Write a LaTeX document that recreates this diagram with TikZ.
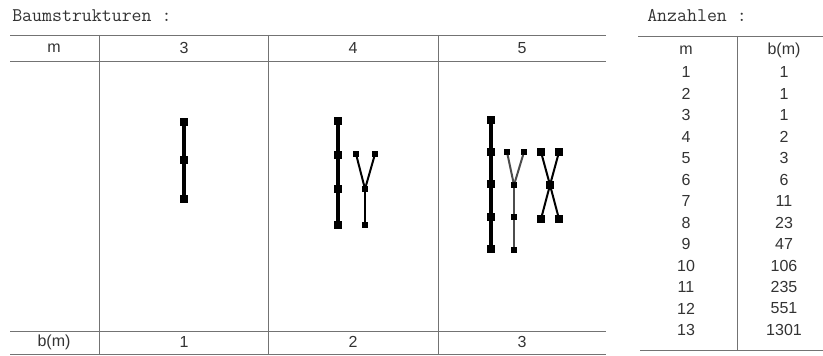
\documentclass[tikz,border=0pt]{standalone}
\usepackage{fontspec}
\setmainfont{Liberation Sans}
\usepackage{tikz}

\tikzset{
  rule/.style={draw=black!55, line width=0.7pt},
  cell/.style={inner sep=0pt, font=\fontsize{12}{12}\selectfont, text=black!80},
  heading/.style={inner sep=0pt, anchor=west, font=\ttfamily\fontsize{14.5}{14.5}\selectfont, text=black!80},
  knot/.style={rectangle, fill=black, inner sep=0pt, minimum size=5.6pt},
  tick/.style={rectangle, fill=black, inner sep=0pt, minimum size=4pt},
  stem/.style={line width=2.5pt},
  twig/.style={line width=1.5pt},
}

\begin{document}
\begin{tikzpicture}[x=0.75pt, y=-0.75pt]
      \useasboundingbox (0,0) rectangle (823,356);

      \node[heading] (baum) at (12,16) {Baumstrukturen :};
      \draw [rule] (10,35) -- (606,35);
      \draw [rule] (10,61) -- (606,61);
      \draw [rule] (10,331) -- (606,331);
      \draw [rule] (10,354) -- (606,354);
      \draw [rule] (99,35) -- (99,354);
      \draw [rule] (268,35) -- (268,354);
      \draw [rule] (438,35) -- (438,354);

      \node[cell] (km) at (54,48) {m};
      \node[cell] (k3) at (184,48) {3};
      \node[cell] (k4) at (353,48) {4};
      \node[cell] (k5) at (522,48) {5};
      \node[cell] (kb) at (54,342) {b(m)};
      \node[cell] (b3) at (184,342) {1};
      \node[cell] (b4) at (353,342) {2};
      \node[cell] (b5) at (522,342) {3};

      % m = 3
      \node[knot] (a1) at (184,122) {};
      \node[knot] (a2) at (184,160) {};
      \node[knot] (a3) at (184,199) {};
      \draw [stem] (a1) -- (a2) -- (a3);

      % m = 4
      \node[knot] (p1) at (338,121) {};
      \node[knot] (p2) at (338,155) {};
      \node[knot] (p3) at (338,189) {};
      \node[knot] (p4) at (338,225) {};
      \draw [stem] (p1) -- (p2) -- (p3) -- (p4);
      \node[tick] (y1) at (356,154) {};
      \node[tick] (y2) at (375,154) {};
      \node[tick] (y3) at (365,189) {};
      \node[tick] (y4) at (365,225) {};
      \draw [twig] (y1) -- (y3);
      \draw [twig] (y2) -- (y3);
      \draw [twig] (y3) -- (y4);

      % m = 5
      \node[knot] (q1) at (491,120) {};
      \node[knot] (q2) at (491,152) {};
      \node[knot] (q3) at (491,184) {};
      \node[knot] (q4) at (491,217) {};
      \node[knot] (q5) at (491,249) {};
      \draw [stem] (q1) -- (q2) -- (q3) -- (q4) -- (q5);
      \node[tick] (v1) at (507,152) {};
      \node[tick] (v2) at (524,152) {};
      \node[tick] (v3) at (514,185) {};
      \node[tick] (v4) at (514,217) {};
      \node[tick] (v5) at (514,250) {};
      \draw [twig, black!70] (v1) -- (v3);
      \draw [twig, black!70] (v2) -- (v3);
      \draw [twig, black!70] (v3) -- (v4) -- (v5);
      \node[knot] (x1) at (541,152) {};
      \node[knot] (x2) at (559,152) {};
      \node[knot] (x3) at (550,185) {};
      \node[knot] (x4) at (541,219) {};
      \node[knot] (x5) at (559,219) {};
      \draw [twig] (x1) -- (x3) -- (x5);
      \draw [twig] (x2) -- (x3) -- (x4);

      \node[heading] (anz) at (647,16) {Anzahlen :};
      \draw [rule] (638,36) -- (823,36);
      \draw [rule] (640,350) -- (823,350);
      \draw [rule] (737,36) -- (737,350);

      \node[cell] (hm) at (686,50) {m};
      \node[cell] (hb) at (784,50) {b(m)};
      \node[cell] (m1) at (686,72) {1};      \node[cell] (n1) at (784,72) {1};
      \node[cell] (m2) at (686,93.5) {2};    \node[cell] (n2) at (784,93.5) {1};
      \node[cell] (m3) at (686,115) {3};     \node[cell] (n3) at (784,115) {1};
      \node[cell] (m4) at (686,136.5) {4};   \node[cell] (n4) at (784,136.5) {2};
      \node[cell] (m5) at (686,158) {5};     \node[cell] (n5) at (784,158) {3};
      \node[cell] (m6) at (686,179.5) {6};   \node[cell] (n6) at (784,179.5) {6};
      \node[cell] (m7) at (686,201) {7};     \node[cell] (n7) at (784,201) {11};
      \node[cell] (m8) at (686,222.5) {8};   \node[cell] (n8) at (784,222.5) {23};
      \node[cell] (m9) at (686,244) {9};     \node[cell] (n9) at (784,244) {47};
      \node[cell] (m10) at (686,265.5) {10}; \node[cell] (n10) at (784,265.5) {106};
      \node[cell] (m11) at (686,287) {11};   \node[cell] (n11) at (784,287) {235};
      \node[cell] (m12) at (686,308.5) {12}; \node[cell] (n12) at (784,308.5) {551};
      \node[cell] (m13) at (686,330) {13};   \node[cell] (n13) at (784,330) {1301};
    \end{tikzpicture}
\end{document}
